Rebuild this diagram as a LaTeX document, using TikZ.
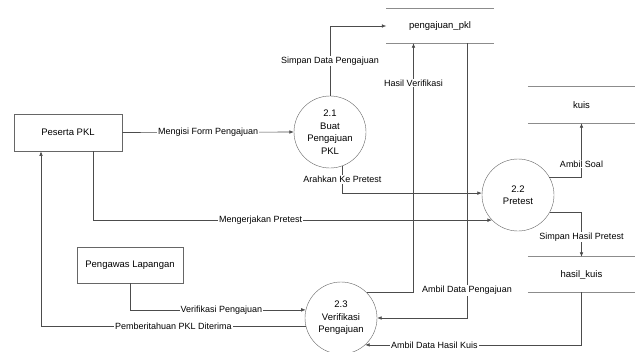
\documentclass[tikz,border=0pt]{standalone}
\usepackage{fontspec}
\setmainfont{Liberation Sans}
\usetikzlibrary{arrows.meta}
\tikzset{
	proses/.style={circle,draw=black!60,fill=white,minimum size=72pt,inner sep=0pt,align=center,font=\fontsize{9.5}{12.5}\selectfont},
	entitas/.style={rectangle,draw=black!60,line width=0.7pt,fill=white,inner sep=0pt,font=\fontsize{9.5}{11}\selectfont},
	simpanan/.style={minimum width=107pt,inner sep=0pt,font=\fontsize{9.5}{11}\selectfont},
	garis/.style={draw=black!45,line width=1.2pt},
	alur/.style={draw=black!70,line width=0.6pt,-{Latex[length=4.5pt,width=3.6pt]}},
	ket/.style={fill=white,inner sep=1pt,font=\fontsize{9}{10}\selectfont},
}
\begin{document}
\begin{tikzpicture}[x=1pt,y=-1pt]
			\useasboundingbox (0,0) rectangle (642,351);
			
			% Entities
			\node[entitas,minimum width=108pt,minimum height=37pt] (peserta) at (68,132.5) {Peserta PKL};
			\node[entitas,minimum width=106pt,minimum height=36pt] (pengawas) at (130,265) {Pengawas Lapangan};
			
			% Processes
			\node[proses] (p21) at (330,132) {2.1\\Buat\\Pengajuan\\PKL};
			\node[proses] (p22) at (518,195) {2.2\\Pretest};
			\node[proses] (p23) at (341,318) {2.3\\Verifikasi\\Pengajuan};
			
			% Data stores
			\node[simpanan,minimum height=34pt] (pkl) at (440,26) {pengajuan\_pkl};
			\node[simpanan,minimum height=36pt] (kuis) at (581.5,105) {kuis};
			\node[simpanan,minimum height=35pt] (hasil) at (581.5,274.5) {hasil\_kuis};
			\draw[garis] (pkl.north west) -- (pkl.north east);
			\draw[garis] (pkl.south west) -- (pkl.south east);
			\draw[garis] (kuis.north west) -- (kuis.north east);
			\draw[garis] (kuis.south west) -- (kuis.south east);
			\draw[garis] (hasil.north west) -- (hasil.north east);
			\draw[garis] (hasil.south west) -- (hasil.south east);
			
			% Flows
			\draw[alur] (peserta.east) -- (p21.west) node[ket,midway] {Mengisi Form Pengajuan};
			\draw[alur] (p21.north) |- (pkl.west) node[ket,pos=0.25] {Simpan Data Pengajuan};
			\draw[alur] (p21.-70) |- (p22.177) node[ket,pos=0.25] {Arahkan Ke Pretest};
			\draw[alur] ([xshift=25pt]peserta.south) |- (p22.-136) node[ket,pos=0.71] {Mengerjakan Pretest};
			\draw[alur] (p22.30) -| (kuis.south) node[ket,pos=0.62] {Ambil Soal};
			\draw[alur] (p22.-28) -| (hasil.north) node[ket,pos=0.78] {Simpan Hasil Pretest};
			\draw[alur] (p23.45) -| ([xshift=-26.5pt]pkl.south) node[ket,pos=0.92] {Hasil Verifikasi};
			\draw[alur] ([xshift=27pt]pkl.south) |- (p23.east) node[ket,pos=0.45] {Ambil Data Pengajuan};
			\draw[alur] (hasil.south) |- (p23.-48) node[ket,pos=0.84] {Ambil Data Hasil Kuis};
			\draw[alur] (pengawas.south) |- (p23.167) node[ket,pos=0.76] {Verifikasi Pengajuan};
			\draw[alur] (p23.194) -| ([xshift=-27pt]peserta.south) node[ket,pos=0.25] {Pemberitahuan PKL Diterima};
		\end{tikzpicture}
\end{document}
